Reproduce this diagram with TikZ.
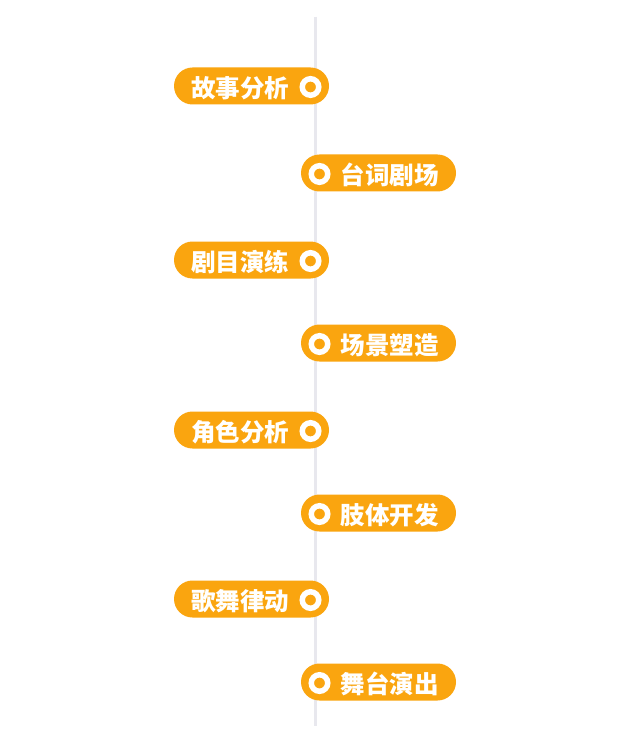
\documentclass[tikz,border=0pt]{standalone}
\usepackage{fontspec}
\newfontfamily\cjk{Noto Sans CJK SC}
\definecolor{pillorange}{RGB}{250,165,15}
\definecolor{axisgray}{RGB}{232,232,238}
\tikzset{
  pill/.style={draw=none, fill=pillorange, rounded corners=18.5pt, minimum width=155pt, minimum height=37pt, inner sep=0pt},
  pilltext/.style={text=white, font=\cjk\bfseries\fontsize{24.5pt}{26pt}\selectfont, inner sep=0pt, anchor=center},
  ring/.style={circle, draw=white, line width=5.5pt, fill=pillorange, minimum size=16.5pt, inner sep=0pt},
  axis/.style={draw=axisgray, line width=3pt}
}
\begin{document}
\begin{tikzpicture}[x=1pt, y=-1pt]
\useasboundingbox (0,0) rectangle (640,743);
\fill[white] (0,0) rectangle (640,743);
\coordinate (top) at (315,17);
\coordinate (bot) at (315,726);
\draw[axis] (top) -- (bot);
% left pills
\foreach \n/\y/\t in {1/86/故事分析, 3/260/剧目演练, 5/430/角色分析, 7/599/歌舞律动}{
  \node[pill] (p\n) at (251.5,\y) {};
  \node[pilltext] (t\n) at (240,\y+2) {\t};
  \node[ring] (r\n) at (310.5,\y+1) {};
}
% right pills
\foreach \n/\y/\t in {2/173/台词剧场, 4/343/场景塑造, 6/513/肢体开发, 8/682/舞台演出}{
  \node[pill] (p\n) at (378.5,\y) {};
  \node[pilltext] (t\n) at (389.5,\y+2) {\t};
  \node[ring] (r\n) at (319.5,\y+1) {};
}
\end{tikzpicture}
\end{document}
